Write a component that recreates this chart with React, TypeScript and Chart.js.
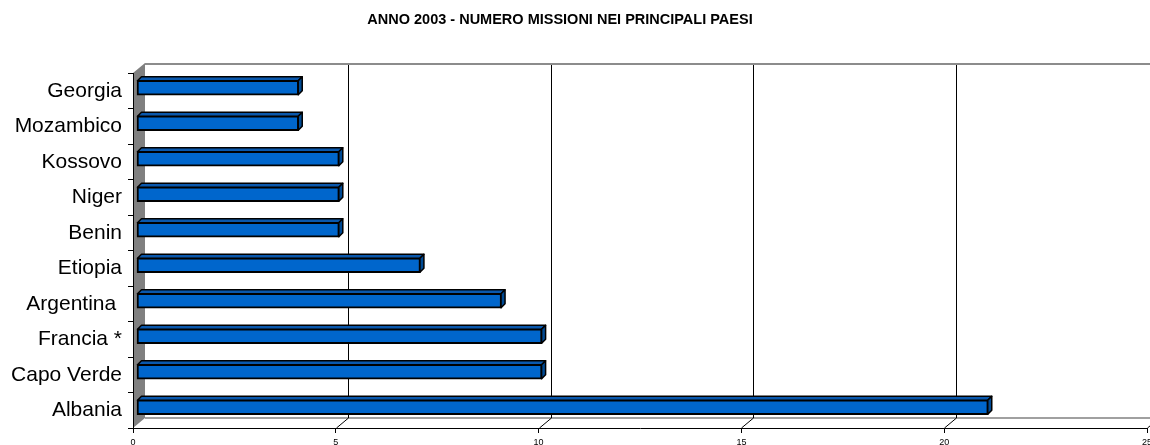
import React, { useEffect, useRef } from "react";
import { Chart, registerables } from "chart.js";

Chart.register(...registerables);

const title = "ANNO 2003 - NUMERO MISSIONI NEI PRINCIPALI PAESI";
const categories = [
  "Georgia",
  "Mozambico",
  "Kossovo",
  "Niger",
  "Benin",
  "Etiopia",
  "Argentina ",
  "Francia *",
  "Capo Verde",
  "Albania",
];
const missions = [4, 4, 5, 5, 5, 7, 9, 10, 10, 21];
const xTickValues = [0, 5, 10, 15, 20, 25];

const FONT = "'Liberation Sans', Arial, sans-serif";
const BACK_DX = 12;
const BACK_DY = 10;
const BAR_DX = 3.5;
const BAR_DY = 3;
const FACE_D = 4;

const titlePlugin = {
  id: "offsetTitle",
  afterDraw(chart: any) {
    const ctx = chart.ctx;
    ctx.save();
    ctx.fillStyle = "#000000";
    ctx.font = `bold 14.5px ${FONT}`;
    ctx.textAlign = "center";
    ctx.textBaseline = "alphabetic";
    ctx.fillText(title, 560, 24);
    ctx.restore();
  },
};

const depthPlugin = {
  id: "depth3d",
  beforeDraw(chart: any) {
    const { ctx, chartArea } = chart;
    const xs = chart.scales.x;
    const { left, top, bottom } = chartArea;
    const W = chart.width;
    ctx.save();
    ctx.fillStyle = "#808080";
    ctx.beginPath();
    ctx.moveTo(left, top);
    ctx.lineTo(left + BACK_DX, top - BACK_DY);
    ctx.lineTo(left + BACK_DX, bottom - BACK_DY);
    ctx.lineTo(left, bottom);
    ctx.closePath();
    ctx.fill();
    ctx.strokeStyle = "#8c8c8c";
    ctx.lineWidth = 2;
    ctx.beginPath();
    ctx.moveTo(left + BACK_DX, top - BACK_DY + 1);
    ctx.lineTo(W, top - BACK_DY + 1);
    ctx.stroke();
    ctx.strokeStyle = "#a0a0a0";
    ctx.beginPath();
    ctx.moveTo(left + BACK_DX, bottom - BACK_DY);
    ctx.lineTo(W, bottom - BACK_DY);
    ctx.stroke();
    ctx.strokeStyle = "#000000";
    ctx.lineWidth = 1;
    xTickValues.forEach((v) => {
      if (v === 0) return;
      const fx = Math.round(xs.getPixelForValue(v)) + 0.5;
      const bx = fx + BACK_DX;
      ctx.beginPath();
      ctx.moveTo(bx, top - BACK_DY + 2);
      ctx.lineTo(bx, bottom - BACK_DY);
      ctx.lineTo(fx, bottom);
      ctx.stroke();
    });
    ctx.restore();
  },
  beforeDatasetsDraw(chart: any) {
    chart.ctx.save();
    chart.ctx.translate(BAR_DX, -BAR_DY);
  },
  afterDatasetsDraw(chart: any) {
    const ctx = chart.ctx;
    const meta = chart.getDatasetMeta(0);
    ctx.lineWidth = 1.5;
    ctx.lineJoin = "round";
    ctx.strokeStyle = "#000000";
    meta.data.forEach((el: any) => {
      const { x, y, base, height } = el.getProps(["x", "y", "base", "height"], true);
      const t = y - height / 2 + 0.5;
      const b = y + height / 2 - 0.5;
      const l = base + 0.5;
      const r = x - 0.5;
      ctx.fillStyle = "#0a58ad";
      ctx.beginPath();
      ctx.moveTo(l, t);
      ctx.lineTo(l + FACE_D, t - FACE_D);
      ctx.lineTo(r + FACE_D, t - FACE_D);
      ctx.lineTo(r, t);
      ctx.closePath();
      ctx.fill();
      ctx.stroke();
      ctx.fillStyle = "#004a94";
      ctx.beginPath();
      ctx.moveTo(r, t);
      ctx.lineTo(r + FACE_D, t - FACE_D);
      ctx.lineTo(r + FACE_D, b - FACE_D);
      ctx.lineTo(r, b);
      ctx.closePath();
      ctx.fill();
      ctx.stroke();
    });
    ctx.restore();
  },
};

export default function App() {
  const ref = useRef<HTMLCanvasElement | null>(null);

  useEffect(() => {
    document.body.style.margin = "0";
    const canvas = ref.current;
    if (!canvas) return;
    const chart = new Chart(canvas, {
      type: "bar",
      data: {
        labels: categories,
        datasets: [
          {
            data: missions,
            backgroundColor: "#0066cc",
            borderColor: "#000000",
            borderWidth: 2,
            borderSkipped: false,
            barThickness: 15,
          },
        ],
      },
      options: {
        indexAxis: "y",
        responsive: false,
        maintainAspectRatio: false,
        animation: false,
        layout: { padding: { left: 0, right: 3, top: 73, bottom: 0 } },
        plugins: {
          legend: { display: false },
          tooltip: { enabled: false },
          title: { display: false, text: title },
        },
        datasets: { bar: { clip: false } } as any,
        scales: {
          x: {
            type: "linear",
            min: 0,
            max: 25,
            afterBuildTicks(scale: any) {
              scale.ticks = xTickValues.map((v) => ({ value: v }));
            },
            afterFit(scale: any) {
              scale.height = 17;
              scale.paddingLeft = 0;
              scale.paddingRight = 0;
            },
            grid: {
              drawOnChartArea: false,
              drawTicks: true,
              tickLength: 5,
              color: "#000000",
            },
            border: { display: true, color: "#000000", width: 1 },
            ticks: {
              color: "#000000",
              font: { family: FONT, size: 9 },
              padding: 4,
              maxRotation: 0,
              autoSkip: false,
            },
          },
          y: {
            type: "category",
            afterFit(scale: any) {
              scale.width = 133;
              scale.paddingTop = 0;
              scale.paddingBottom = 0;
            },
            grid: {
              drawOnChartArea: false,
              drawTicks: true,
              tickLength: 5,
              color: "#000000",
            },
            border: { display: true, color: "#000000", width: 1 },
            ticks: {
              color: "#000000",
              font: { family: FONT, size: 21 },
              padding: 6,
              autoSkip: false,
            },
          },
        },
      },
      plugins: [depthPlugin, titlePlugin],
    } as any);
    return () => chart.destroy();
  }, []);

  return (
    <div style={{ width: 1150, height: 445, background: "#ffffff" }}>
      <canvas ref={ref} width={1150} height={445} style={{ display: "block" }} />
    </div>
  );
}
